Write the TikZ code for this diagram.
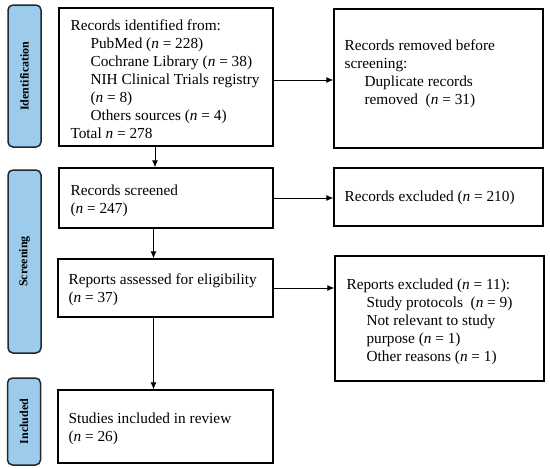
\documentclass[tikz,border=0pt]{standalone}
\usepackage{fontspec}
\setmainfont{Liberation Serif}
\usetikzlibrary{arrows.meta}
\definecolor{phase}{RGB}{157,203,235}
\definecolor{phaseedge}{RGB}{30,40,55}
\tikzset{
  box/.style={draw=black, line width=1.3pt, inner sep=0pt},
  txt/.style={anchor=west, align=left, inner sep=0pt, font=\fontsize{15.3}{18}\selectfont},
  phasebox/.style={draw=phaseedge, fill=phase, line width=1.5pt, rounded corners=5pt,
    minimum width=33pt, inner sep=0pt},
  phasetext/.style={rotate=90, font=\fontsize{12}{13}\selectfont\bfseries},
  arr/.style={line width=1pt, -{Latex[length=7pt,width=6pt]}}
}
\newcommand{\ind}{\hspace*{20pt}}
\begin{document}
\begin{tikzpicture}[x=1pt,y=-1pt]
\useasboundingbox (0,0) rectangle (550,469);
% phase labels
\node[phasebox, minimum height=142pt] (pid) at (24.5,76) {};
\node[phasetext] (pidt) at (pid.center) {Identification};
\node[phasebox, minimum height=183pt] (psc) at (24.5,261.5) {};
\node[phasetext] (psct) at (psc.center) {Screening};
\node[phasebox, minimum height=87pt] (pin) at (24,421.5) {};
\node[phasetext] (pint) at (pin.center) {Included};
% main boxes
\node[box, minimum width=214pt, minimum height=138pt] (b1) at (166,77) {};
\node[txt] (b1t) at ([xshift=12pt,yshift=-2pt]b1.west)
 {Records identified from:\\
  \ind PubMed (\textit{n} = 228)\\
  \ind Cochrane Library (\textit{n} = 38)\\
  \ind NIH Clinical Trials registry\\
  \ind (\textit{n} = 8)\\
  \ind Others sources (\textit{n} = 4)\\
  Total \textit{n} = 278};
\node[box, minimum width=209pt, minimum height=139pt] (b2) at (438.5,78.5) {};
\node[txt] (b2t) at ([xshift=11pt,yshift=5pt]b2.west)
 {Records removed before\\
  screening:\\
  \ind Duplicate records\\
  \ind removed\ \ (\textit{n} = 31)};
\node[box, minimum width=214pt, minimum height=60pt] (b3) at (166,198) {};
\node[txt] (b3t) at ([xshift=12pt,yshift=-3pt]b3.west)
 {Records screened\\(\textit{n} = 247)};
\node[box, minimum width=209pt, minimum height=58pt] (b4) at (438.5,197) {};
\node[txt] (b4t) at ([xshift=11pt,yshift=-1pt]b4.west)
 {Records excluded (\textit{n} = 210)};
\node[box, minimum width=215pt, minimum height=58pt] (b5) at (165.5,288) {};
\node[txt] (b5t) at ([xshift=11pt,yshift=-2pt]b5.west)
 {Reports assessed for eligibility\\(\textit{n} = 37)};
\node[box, minimum width=209pt, minimum height=125pt] (b6) at (439.5,318.5) {};
\node[txt] (b6t) at ([xshift=12pt,yshift=-3pt]b6.west)
 {Reports excluded (\textit{n} = 11):\\
  \ind Study protocols\ \ (\textit{n} = 9)\\
  \ind Not relevant to study\\
  \ind purpose (\textit{n} = 1)\\
  \ind Other reasons (\textit{n} = 1)};
\node[box, minimum width=215pt, minimum height=73pt] (b7) at (165.5,426.5) {};
\node[txt] (b7t) at ([xshift=11pt,yshift=-2pt]b7.west)
 {Studies included in review\\(\textit{n} = 26)};
% connectors
\draw[arr] ([yshift=-3pt]b1.east) -- ([yshift=-3pt]b1.east -| b2.west);
\draw[arr] (b3.east) -- (b3.east -| b4.west);
\draw[arr] (b5.east) -- (b5.east -| b6.west);
\draw[arr] ([xshift=-11pt]b1.south) -- ([xshift=-11pt]b1.south |- b3.north);
\draw[arr] ([xshift=-12pt]b5.north |- b3.south) -- ([xshift=-12pt]b5.north);
\draw[arr] ([xshift=-12pt]b5.south) -- ([xshift=-12pt]b7.north);
\end{tikzpicture}
\end{document}
